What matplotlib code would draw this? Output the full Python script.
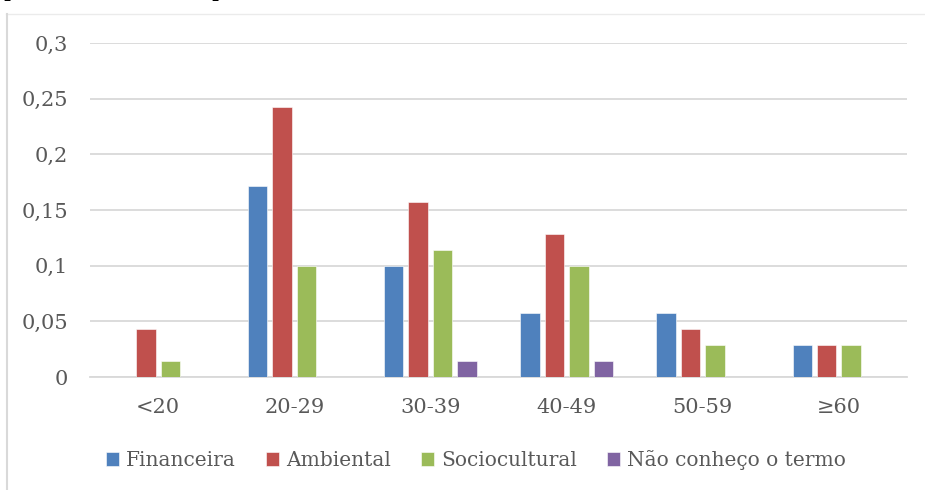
import matplotlib.pyplot as plt
from matplotlib.lines import Line2D
import numpy as np

# datos
categorias = ['<20', '20-29', '30-39', '40-49', '50-59', '≥60']
series = ['Financeira', 'Ambiental', 'Sociocultural', 'Não conheço o termo']
financeira = [0, 0.1714, 0.1, 0.0571, 0.0571, 0.0286]
ambiental = [0.0429, 0.2429, 0.1571, 0.1286, 0.0429, 0.0286]
sociocultural = [0.0143, 0.1, 0.1143, 0.1, 0.0286, 0.0286]
nao_conheco = [0, 0, 0.0143, 0.0143, 0, 0]
yticks = [0, 0.05, 0.1, 0.15, 0.2, 0.25, 0.3]
ytick_labels = ['0', '0,05', '0,1', '0,15', '0,2', '0,25', '0,3']

colores = ['#4F81BD', '#C0504D', '#9BBB59', '#8064A2']
texto = '#595959'
grid = '#D9D9D9'

plt.rcParams['font.family'] = ['DejaVu Serif']

fig = plt.figure(figsize=(9.25, 4.9), dpi=100)
ax = fig.add_axes([90 / 925, 113 / 490, 817 / 925, 334 / 490])

x = np.arange(len(categorias))
paso = 0.1795
ancho = 0.143
for j, (nombre, vals) in enumerate(zip(series, [financeira, ambiental, sociocultural, nao_conheco])):
    ax.bar(x + (j - 1.5) * paso, vals, width=ancho, color=colores[j], label=nombre,
           edgecolor='white', linewidth=0.4, zorder=3)

ax.set_xlim(-0.5, len(categorias) - 0.5)
ax.set_ylim(0, 0.3)
ax.set_yticks(yticks)
ax.set_yticklabels(ytick_labels)
ax.set_xticks(x)
ax.set_xticklabels(categorias)
ax.yaxis.grid(True, color=grid, linewidth=1.3, zorder=0)
ax.tick_params(axis='both', length=0, labelsize=15, labelcolor=texto)
ax.tick_params(axis='y', pad=16)
ax.tick_params(axis='x', pad=15)
for s in ['top', 'right', 'left']:
    ax.spines[s].set_visible(False)
ax.spines['bottom'].set_color(grid)
ax.spines['bottom'].set_linewidth(1.3)

ax.legend(loc='center', bbox_to_anchor=(476 / 925, 30 / 490), bbox_transform=fig.transFigure,
          ncol=4, frameon=False, fontsize=14.5, labelcolor=texto,
          handlelength=0.65, handleheight=0.65, handletextpad=0.35, columnspacing=1.5)

# borde del área del gráfico
fig.add_artist(Line2D([6 / 925, 1], [1 - 14 / 490, 1 - 14 / 490], color='#EBEBEB', linewidth=1))
fig.add_artist(Line2D([7 / 925, 7 / 925], [0, 1 - 14 / 490], color='#D9D9D9', linewidth=1.5))

# restos del texto de arriba recortado
fig.text(0.004, 1 + 4 / 490, 'p', fontsize=16, color='black', va='baseline')
fig.text(0.228, 1 + 4 / 490, 'p', fontsize=16, color='black', va='baseline')

fig.savefig('out.png', dpi=100)
